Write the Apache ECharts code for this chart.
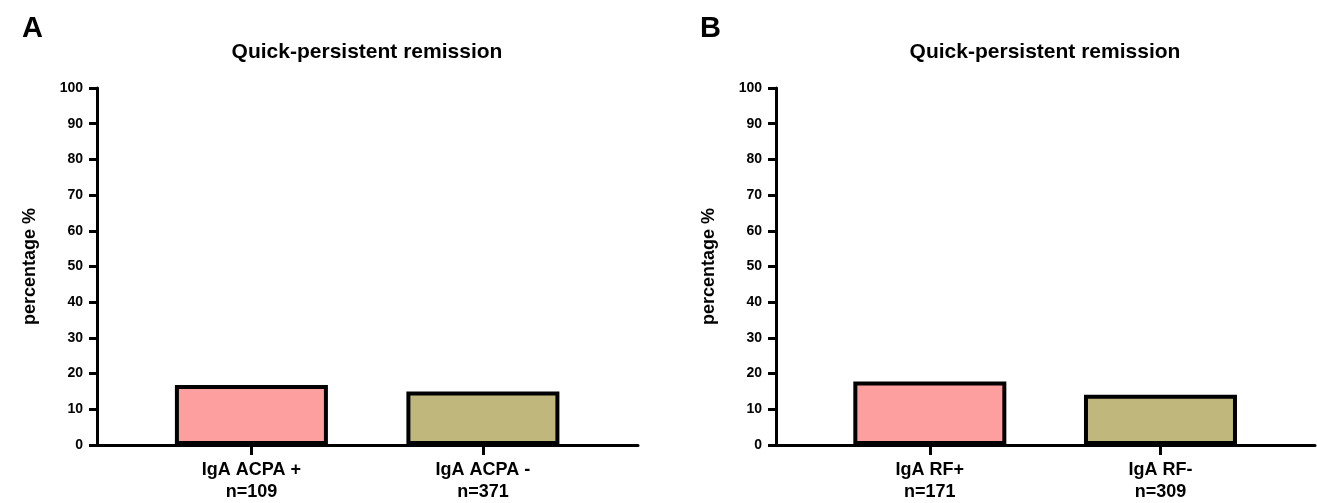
<!DOCTYPE html>
<html>
<head>
<meta charset="utf-8">
<script src="https://cdn.jsdelivr.net/npm/echarts@6/dist/echarts.min.js"></script>
<style>
html,body{margin:0;padding:0;background:#fff;}
#c{width:1317px;height:503px;}
</style>
</head>
<body>
<div id="c"></div>
<script>
// ---- data ----
const panelLetters = ['A', 'B'];
const panelTitle = 'Quick-persistent remission';
const yAxisName = 'percentage %';
const categoriesA = ['IgA ACPA +\nn=109', 'IgA ACPA -\nn=371'];
const valuesA = [16.8, 15.0];
const categoriesB = ['IgA RF+\nn=171', 'IgA RF-\nn=309'];
const valuesB = [17.8, 14.1];
const barColors = ['#fe9f9f', '#bfb77c'];
const yTicks = { min: 0, max: 100, interval: 10 };

// ---- chart ----
const FONT = '"Liberation Sans", Arial, Helvetica, sans-serif';
const chart = echarts.init(document.getElementById('c'), null, { renderer: 'canvas' });

const positions = [1, 2];

function xAxisFor(gridIndex, cats) {
  return {
    type: 'value', gridIndex: gridIndex, min: 0.333, max: 2.67,
    splitLine: { show: false },
    axisLine: { show: true, onZero: false, lineStyle: { color: '#000', width: 3 } },
    axisTick: { show: true, length: 10, lineStyle: { color: '#000', width: 3 }, customValues: positions },
    axisLabel: {
      show: true, customValues: positions, margin: 14,
      color: '#000', fontWeight: 'bold', fontSize: 18, fontFamily: FONT, lineHeight: 22,
      formatter: function (v) { const i = positions.indexOf(Math.round(v)); return i >= 0 ? cats[i] : ''; }
    }
  };
}
function yAxisFor(gridIndex) {
  return {
    type: 'value', gridIndex: gridIndex, min: yTicks.min, max: yTicks.max, interval: yTicks.interval,
    name: yAxisName, nameLocation: 'middle', nameGap: 58, nameRotate: 90,
    nameTextStyle: { color: '#000', fontWeight: 'bold', fontSize: 18, fontFamily: FONT },
    splitLine: { show: false },
    axisLine: { show: true, lineStyle: { color: '#000', width: 3 } },
    axisTick: { show: true, length: 8, lineStyle: { color: '#000', width: 3 } },
    axisLabel: { color: '#000', fontWeight: 'bold', fontSize: 14, fontFamily: FONT, margin: 14 }
  };
}
function barSeries(idx, vals) {
  return {
    type: 'bar', xAxisIndex: idx, yAxisIndex: idx, barWidth: 153,
    data: vals.map((v, i) => ({ value: [positions[i], v], itemStyle: { color: barColors[i] } })),
    itemStyle: { borderColor: '#000', borderWidth: 4 },
    emphasis: { disabled: true }, silent: true
  };
}

const option = {
  animation: false,
  backgroundColor: '#fff',
  grid: [
    { left: 97, right: 679, top: 88, bottom: 53 },
    { left: 776, right: 2, top: 88, bottom: 53 }
  ],
  xAxis: [xAxisFor(0, categoriesA), xAxisFor(1, categoriesB)],
  yAxis: [yAxisFor(0), yAxisFor(1)],
  series: [barSeries(0, valuesA), barSeries(1, valuesB)],
  graphic: [
    { type: 'text', x: 22, y: 29, style: { text: panelLetters[0], font: 'bold 29px ' + FONT, fill: '#000', verticalAlign: 'middle' } },
    { type: 'text', x: 700, y: 29, style: { text: panelLetters[1], font: 'bold 29px ' + FONT, fill: '#000', verticalAlign: 'middle' } },
    { type: 'text', x: 367, y: 52, style: { text: panelTitle, font: 'bold 21px ' + FONT, fill: '#000', align: 'center', verticalAlign: 'middle' } },
    { type: 'text', x: 1045, y: 52, style: { text: panelTitle, font: 'bold 21px ' + FONT, fill: '#000', align: 'center', verticalAlign: 'middle' } }
  ]
};
chart.setOption(option);
</script>
</body>
</html>
